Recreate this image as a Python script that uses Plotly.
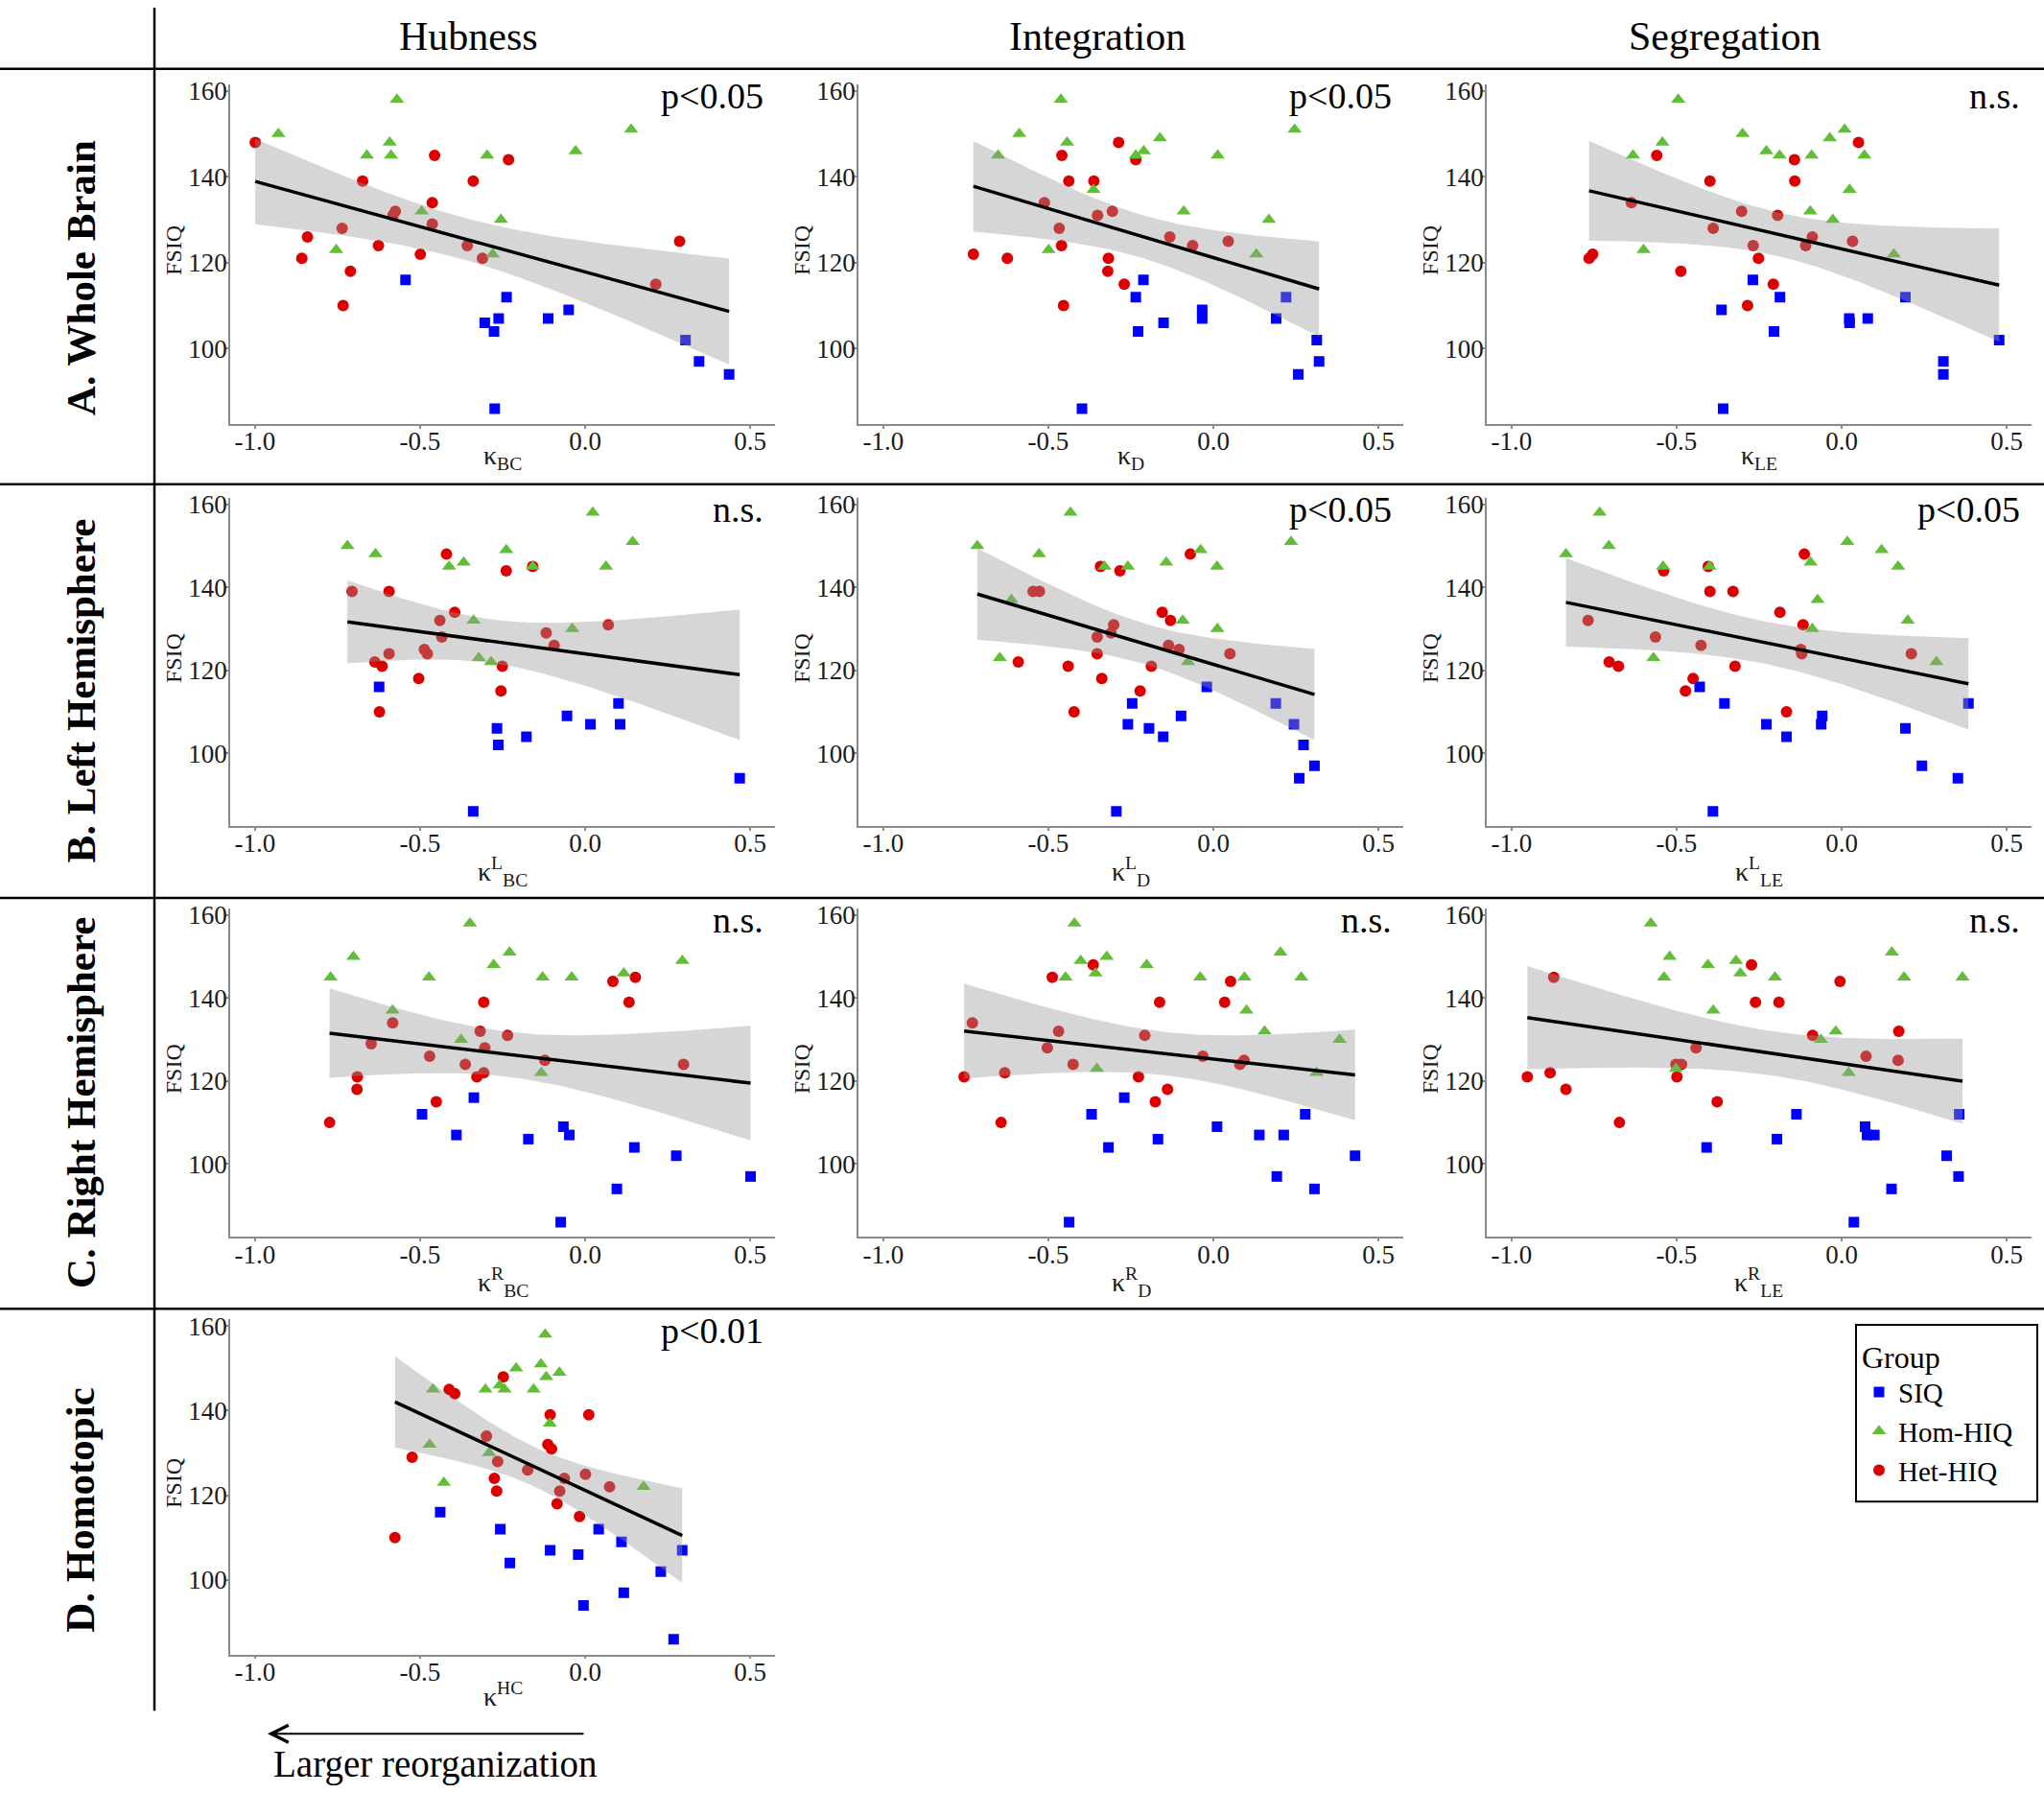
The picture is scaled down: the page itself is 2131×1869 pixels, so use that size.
import numpy as np
import plotly.graph_objects as go

# ---- axis ticks / labels ----
X_TICKS = [-1.0, -0.5, 0.0, 0.5]
X_TICKTEXT = ["-1.0", "-0.5", "0.0", "0.5"]
Y_TICKS = [100, 120, 140, 160]
GROUPS = ["SIQ", "Hom-HIQ", "Het-HIQ"]
COLUMN_TITLES = ["Hubness", "Integration", "Segregation"]
ROW_TITLES = ["A. Whole Brain", "B. Left Hemisphere", "C. Right Hemisphere", "D. Homotopic"]

# ---- A. whole brain ----
WB_HUB_SIQ_X = [-0.544, -0.238, -0.304, -0.262, -0.276, -0.112, -0.050, 0.304, 0.345, 0.436, -0.274]
WB_HUB_SIQ_IQ = [116, 112, 106, 107, 104, 107, 109, 102, 97, 94, 86]
WB_HUB_HOM_X = [-0.570, -0.929, -0.592, -0.661, -0.588, -0.297, -0.029, 0.139, -0.495, -0.255, -0.754, -0.280]
WB_HUB_HOM_IQ = [158, 150, 148, 145, 145, 145, 146, 151, 132, 130, 123, 122]
WB_HUB_HET_X = [-0.999, -0.456, -0.232, -0.674, -0.339, -0.463, -0.575, -0.582, -0.463, -0.736,
                -0.841, -0.626, -0.357, -0.858, -0.499, -0.311, -0.711, 0.286, 0.214, -0.733]
WB_HUB_HET_IQ = [148, 145, 144, 139, 139, 134, 132, 131, 129, 128, 126, 124, 124, 121, 122, 121, 118, 125, 115, 110]

WB_INT_SIQ_X = [-0.212, -0.235, -0.034, -0.034, -0.151, -0.228, 0.190, 0.220, 0.313, 0.320, 0.257, -0.398]
WB_INT_SIQ_IQ = [116, 112, 109, 107, 106, 104, 107, 112, 102, 97, 94, 86]
WB_INT_HOM_X = [-0.462, -0.588, -0.443, -0.652, -0.235, -0.211, -0.162, 0.013, 0.246, -0.363, -0.090, 0.168, -0.499, 0.130]
WB_INT_HOM_IQ = [158, 150, 148, 145, 145, 146, 149, 145, 151, 137, 132, 130, 123, 122]
WB_INT_HET_X = [-0.287, -0.459, -0.235, -0.438, -0.362, -0.512, -0.306, -0.351, -0.467, -0.132,
                -0.460, -0.063, 0.045, -0.727, -0.624, -0.318, -0.320, -0.270, -0.454]
WB_INT_HET_IQ = [148, 145, 144, 139, 139, 134, 132, 131, 128, 126, 124, 124, 125, 122, 121, 121, 118, 115, 110]

WB_SEG_SIQ_X = [-0.269, -0.187, -0.364, 0.023, 0.024, 0.079, -0.205, 0.193, 0.477, 0.308, 0.308, -0.359]
WB_SEG_SIQ_IQ = [116, 112, 109, 107, 106, 107, 104, 112, 102, 97, 94, 86]
WB_SEG_HOM_X = [-0.495, -0.300, -0.543, -0.632, -0.228, -0.188, -0.091, -0.036, 0.009, 0.069, 0.024, -0.095, -0.027, -0.600, 0.158]
WB_SEG_HOM_IQ = [158, 150, 148, 145, 146, 145, 145, 149, 151, 145, 137, 132, 130, 123, 122]
WB_SEG_HET_X = [0.051, -0.560, -0.143, -0.399, -0.142, -0.637, -0.303, -0.194, -0.389, -0.089,
                0.033, -0.268, -0.109, -0.754, -0.765, -0.252, -0.487, -0.207, -0.285]
WB_SEG_HET_IQ = [148, 145, 144, 139, 139, 134, 132, 131, 128, 126, 125, 124, 124, 122, 121, 121, 118, 115, 110]

# ---- B. left hemisphere ----
LH_HUB_SIQ_X = [-0.624, 0.101, -0.055, -0.267, 0.016, 0.106, -0.178, -0.263, 0.468, -0.339]
LH_HUB_SIQ_IQ = [116, 112, 109, 106, 107, 107, 104, 102, 94, 86]
LH_HUB_HOM_X = [0.023, -0.720, -0.635, -0.239, 0.144, -0.412, -0.368, -0.159, 0.063, -0.338, -0.039, -0.322, -0.285]
LH_HUB_HOM_IQ = [158, 150, 148, 149, 151, 145, 146, 145, 145, 132, 130, 123, 122]
LH_HUB_HET_X = [-0.420, -0.239, -0.159, -0.706, -0.594, -0.395, -0.440, 0.070, -0.118, -0.434,
                -0.094, -0.487, -0.478, -0.594, -0.637, -0.615, -0.251, -0.504, -0.255, -0.623]
LH_HUB_HET_IQ = [148, 144, 145, 139, 139, 134, 132, 131, 129, 128, 126, 125, 124, 124, 122, 121, 121, 118, 115, 110]

LH_INT_SIQ_X = [-0.020, -0.246, 0.189, -0.098, -0.259, 0.244, -0.195, -0.152, 0.273, 0.306, 0.260, -0.294]
LH_INT_SIQ_IQ = [116, 112, 112, 109, 107, 107, 106, 104, 102, 97, 94, 86]
LH_INT_HOM_X = [-0.433, -0.715, -0.528, -0.039, 0.235, -0.143, -0.330, -0.259, 0.011, -0.612, -0.093, 0.012, -0.647, -0.077]
LH_INT_HOM_IQ = [158, 150, 148, 149, 151, 146, 145, 145, 145, 137, 132, 130, 123, 122]
LH_INT_HET_X = [-0.070, -0.342, -0.283, -0.546, -0.527, -0.155, -0.130, -0.302, -0.310, -0.352,
                -0.136, -0.104, 0.050, -0.352, -0.591, -0.440, -0.188, -0.338, -0.222, -0.422]
LH_INT_HET_IQ = [148, 145, 144, 139, 139, 134, 132, 131, 129, 128, 126, 125, 124, 124, 122, 121, 121, 118, 115, 110]

LH_SEG_SIQ_X = [-0.430, -0.355, 0.384, -0.059, -0.228, -0.062, 0.193, -0.167, 0.243, 0.352, -0.390]
LH_SEG_SIQ_IQ = [116, 112, 112, 109, 107, 107, 106, 104, 97, 94, 86]
LH_SEG_HOM_X = [-0.733, -0.835, -0.705, 0.017, 0.121, -0.094, 0.171, -0.541, -0.400, -0.073, 0.200, -0.089, -0.570, 0.287]
LH_SEG_HOM_IQ = [158, 148, 150, 151, 149, 146, 145, 145, 145, 137, 132, 130, 123, 122]
LH_SEG_HET_X = [-0.113, -0.404, -0.539, -0.399, -0.329, -0.187, -0.117, -0.768, -0.564, -0.426,
                -0.124, -0.121, 0.211, -0.704, -0.676, -0.323, -0.450, -0.473, -0.167]
LH_SEG_HET_IQ = [148, 145, 144, 139, 139, 134, 131, 132, 128, 126, 125, 124, 124, 122, 121, 121, 118, 115, 110]

# ---- C. right hemisphere ----
RH_HUB_SIQ_X = [-0.337, -0.494, -0.066, -0.390, -0.048, -0.172, 0.149, 0.276, 0.501, 0.096, -0.074]
RH_HUB_SIQ_IQ = [116, 112, 109, 107, 107, 106, 104, 102, 97, 94, 86]
RH_HUB_HOM_X = [-0.349, -0.702, -0.229, -0.277, 0.294, -0.771, -0.473, -0.129, -0.041, 0.117, -0.583, -0.376, -0.133]
RH_HUB_HOM_IQ = [158, 150, 151, 148, 149, 145, 145, 145, 145, 146, 137, 130, 122]
RH_HUB_HET_X = [0.152, 0.084, -0.307, 0.133, -0.583, -0.318, -0.235, -0.648, -0.304, -0.471,
                -0.122, -0.363, 0.298, -0.307, -0.690, -0.328, -0.691, -0.451, -0.774]
RH_HUB_HET_IQ = [145, 144, 139, 139, 134, 132, 131, 129, 128, 126, 125, 124, 124, 122, 121, 121, 118, 115, 110]

RH_INT_SIQ_X = [-0.270, -0.369, 0.278, 0.011, 0.139, 0.213, -0.168, -0.318, 0.429, 0.192, 0.306, -0.437]
RH_INT_SIQ_IQ = [116, 112, 112, 109, 107, 107, 106, 104, 102, 97, 94, 86]
RH_INT_HOM_X = [-0.421, -0.323, -0.402, -0.202, 0.203, -0.448, -0.357, -0.040, 0.094, 0.266, 0.100, 0.155, 0.382, -0.353, 0.312]
RH_INT_HOM_IQ = [158, 150, 149, 148, 151, 145, 146, 145, 145, 145, 137, 132, 130, 123, 122]
RH_INT_HET_X = [-0.364, -0.488, 0.052, -0.163, 0.034, -0.730, -0.469, -0.208, -0.503, -0.032,
                0.093, -0.425, 0.080, -0.632, -0.755, -0.227, -0.139, -0.176, -0.643]
RH_INT_HET_IQ = [148, 145, 144, 139, 139, 134, 132, 131, 128, 126, 125, 124, 124, 122, 121, 121, 118, 115, 110]

RH_SEG_SIQ_X = [-0.137, 0.356, 0.071, 0.077, 0.099, -0.196, -0.409, 0.318, 0.354, 0.151, 0.037]
RH_SEG_SIQ_IQ = [112, 112, 109, 107, 107, 106, 104, 102, 97, 94, 86]
RH_SEG_HOM_X = [-0.578, -0.521, -0.320, -0.405, 0.152, -0.538, -0.307, -0.202, 0.189, 0.366, -0.389, -0.018, -0.063, -0.502, 0.021]
RH_SEG_HOM_IQ = [158, 150, 149, 148, 151, 145, 146, 145, 145, 145, 137, 132, 130, 123, 122]
RH_SEG_HET_X = [-0.273, -0.872, -0.005, -0.261, -0.190, 0.173, -0.088, -0.441, 0.074, 0.171,
                -0.502, -0.485, -0.883, -0.952, -0.499, -0.835, -0.377, -0.673]
RH_SEG_HET_IQ = [148, 145, 144, 139, 139, 132, 131, 128, 126, 125, 124, 124, 122, 121, 121, 118, 115, 110]

# ---- D. homotopic ----
HOM_SIQ_X = [-0.439, -0.257, 0.041, 0.110, -0.106, 0.294, -0.021, -0.228, 0.229, 0.117, -0.005, 0.268]
HOM_SIQ_IQ = [116, 112, 112, 109, 107, 107, 106, 104, 102, 97, 94, 86]
HOM_HOM_X = [-0.121, -0.134, -0.209, -0.078, -0.118, -0.259, -0.461, -0.302, -0.244, -0.156, -0.107, -0.471, -0.291, -0.428, 0.177]
HOM_HOM_IQ = [158, 151, 150, 149, 148, 146, 145, 145, 145, 145, 137, 132, 130, 123, 122]
HOM_HET_X = [-0.248, -0.412, -0.395, -0.106, 0.011, -0.299, -0.113, -0.102, -0.524, -0.265,
             -0.174, 0.001, -0.275, -0.063, 0.074, -0.268, -0.077, -0.085, -0.017, -0.576]
HOM_HET_IQ = [148, 145, 144, 139, 139, 134, 132, 131, 129, 128, 126, 125, 124, 124, 122, 121, 121, 118, 115, 110]

# row, col, x title, p label, (siq, hom, het)
panels = [
    (0, 0, "κ<sub>BC</sub>", "p&lt;0.05", (WB_HUB_SIQ_X, WB_HUB_SIQ_IQ), (WB_HUB_HOM_X, WB_HUB_HOM_IQ), (WB_HUB_HET_X, WB_HUB_HET_IQ)),
    (0, 1, "κ<sub>D</sub>", "p&lt;0.05", (WB_INT_SIQ_X, WB_INT_SIQ_IQ), (WB_INT_HOM_X, WB_INT_HOM_IQ), (WB_INT_HET_X, WB_INT_HET_IQ)),
    (0, 2, "κ<sub>LE</sub>", "n.s.", (WB_SEG_SIQ_X, WB_SEG_SIQ_IQ), (WB_SEG_HOM_X, WB_SEG_HOM_IQ), (WB_SEG_HET_X, WB_SEG_HET_IQ)),
    (1, 0, "κ<sup>L</sup><sub>BC</sub>", "n.s.", (LH_HUB_SIQ_X, LH_HUB_SIQ_IQ), (LH_HUB_HOM_X, LH_HUB_HOM_IQ), (LH_HUB_HET_X, LH_HUB_HET_IQ)),
    (1, 1, "κ<sup>L</sup><sub>D</sub>", "p&lt;0.05", (LH_INT_SIQ_X, LH_INT_SIQ_IQ), (LH_INT_HOM_X, LH_INT_HOM_IQ), (LH_INT_HET_X, LH_INT_HET_IQ)),
    (1, 2, "κ<sup>L</sup><sub>LE</sub>", "p&lt;0.05", (LH_SEG_SIQ_X, LH_SEG_SIQ_IQ), (LH_SEG_HOM_X, LH_SEG_HOM_IQ), (LH_SEG_HET_X, LH_SEG_HET_IQ)),
    (2, 0, "κ<sup>R</sup><sub>BC</sub>", "n.s.", (RH_HUB_SIQ_X, RH_HUB_SIQ_IQ), (RH_HUB_HOM_X, RH_HUB_HOM_IQ), (RH_HUB_HET_X, RH_HUB_HET_IQ)),
    (2, 1, "κ<sup>R</sup><sub>D</sub>", "n.s.", (RH_INT_SIQ_X, RH_INT_SIQ_IQ), (RH_INT_HOM_X, RH_INT_HOM_IQ), (RH_INT_HET_X, RH_INT_HET_IQ)),
    (2, 2, "κ<sup>R</sup><sub>LE</sub>", "n.s.", (RH_SEG_SIQ_X, RH_SEG_SIQ_IQ), (RH_SEG_HOM_X, RH_SEG_HOM_IQ), (RH_SEG_HET_X, RH_SEG_HET_IQ)),
    (3, 0, "κ<sup>HC</sup>", "p&lt;0.01", (HOM_SIQ_X, HOM_SIQ_IQ), (HOM_HOM_X, HOM_HOM_IQ), (HOM_HET_X, HOM_HET_IQ)),
]

W, H = 2131, 1869
Y_SHIFT = -4
FONT = "Liberation Serif, Times New Roman, serif"
COL_LEFT = [240, 895, 1550]
PANEL_W = 568
ROW_TOP = [84, 517, 947, 1377]
ROW_BOTTOM = [440, 861, 1291, 1728]
X_TITLE_GAP = [15, 26, 26, 22]
X_RANGE = [-1.075, 0.575]
Y_RANGE = [82.4, 161.6]
T_CRIT = 2.02  # ~t(0.975, n-2) for n around 45

COLORS = {"SIQ": "#0000FF", "Hom-HIQ": "#62BE37", "Het-HIQ": "#DD0000"}
SYMBOLS = {"SIQ": "square", "Hom-HIQ": "triangle-up", "Het-HIQ": "circle"}
SIZES = {"SIQ": 11, "Hom-HIQ": 13, "Het-HIQ": 12}
RANKS = {"SIQ": 1, "Hom-HIQ": 2, "Het-HIQ": 3}


def fx(px):
    return px / W


def fy(py):
    return 1 - (py + Y_SHIFT) / H


def lm_band(x, y):
    # ordinary least squares + 95% confidence band, like geom_smooth(method="lm")
    x = np.asarray(x, float)
    y = np.asarray(y, float)
    n = len(x)
    xm, ym = x.mean(), y.mean()
    sxx = ((x - xm) ** 2).sum()
    b = ((x - xm) * (y - ym)).sum() / sxx
    a = ym - b * xm
    s = np.sqrt(((y - (a + b * x)) ** 2).sum() / (n - 2))
    grid = np.linspace(x.min(), x.max(), 80)
    fit = a + b * grid
    se = s * np.sqrt(1 / n + (grid - xm) ** 2 / sxx)
    return grid, fit, fit - T_CRIT * se, fit + T_CRIT * se


fig = go.Figure()
annotations = []

for i, (row, col, xtitle, plabel, siq, hom, het) in enumerate(panels, start=1):
    xa = "x" if i == 1 else "x%d" % i
    ya = "y" if i == 1 else "y%d" % i
    sets = {"SIQ": siq, "Hom-HIQ": hom, "Het-HIQ": het}

    # points: red first, green last (green ends up on top like the original)
    for g in ["Het-HIQ", "SIQ", "Hom-HIQ"]:
        gx, gy = sets[g]
        fig.add_trace(go.Scatter(
            x=gx, y=gy, mode="markers", name=g, xaxis=xa, yaxis=ya,
            marker=dict(color=COLORS[g], symbol=SYMBOLS[g], size=SIZES[g], line=dict(width=0)),
            legendgroup=g, showlegend=(i == 1), legendrank=RANKS[g],
        ))

    all_x = list(siq[0]) + list(hom[0]) + list(het[0])
    all_y = list(siq[1]) + list(hom[1]) + list(het[1])
    grid, fit, lo, hi = lm_band(all_x, all_y)
    fig.add_trace(go.Scatter(
        x=np.concatenate([grid, grid[::-1]]), y=np.concatenate([hi, lo[::-1]]),
        fill="toself", fillcolor="rgba(153,153,153,0.4)", line=dict(width=0),
        mode="lines", xaxis=xa, yaxis=ya, showlegend=False, hoverinfo="skip",
    ))
    fig.add_trace(go.Scatter(
        x=grid, y=fit, mode="lines", line=dict(color="black", width=3.5),
        xaxis=xa, yaxis=ya, showlegend=False,
    ))

    x0 = COL_LEFT[col]
    x1 = x0 + PANEL_W
    y0, y1 = ROW_TOP[row], ROW_BOTTOM[row]
    axis_common = dict(
        showline=True, linecolor="#8a8a8a", linewidth=1.5, showgrid=False, zeroline=False,
        ticks="outside", ticklen=3, tickcolor="#8a8a8a", tickwidth=1.5,
        tickfont=dict(family=FONT, size=27, color="#1a1a1a"),
    )
    fig.update_layout(**{
        ("xaxis" if i == 1 else "xaxis%d" % i): dict(
            axis_common, domain=[fx(x0), fx(x1)], anchor=ya, range=X_RANGE,
            tickvals=X_TICKS, ticktext=X_TICKTEXT, ticklabelstandoff=-10,
        ),
        ("yaxis" if i == 1 else "yaxis%d" % i): dict(
            axis_common, domain=[fy(y1), fy(y0)], anchor=xa, range=Y_RANGE,
            tickvals=Y_TICKS, ticklabelstandoff=-7,
        ),
    })

    # x title under the tick labels
    annotations.append(dict(
        text=xtitle, xref="paper", yref="paper", x=fx((x0 + x1) / 2), y=fy(y1 + X_TITLE_GAP[row]),
        xanchor="center", yanchor="top", showarrow=False,
        font=dict(family=FONT, size=28, color="#1a1a1a"),
    ))
    # y title
    annotations.append(dict(
        text="FSIQ", xref="paper", yref="paper", x=fx(x0 - 59), y=fy((y0 + y1) / 2 - 4),
        xanchor="center", yanchor="middle", textangle=-90, showarrow=False,
        font=dict(family=FONT, size=24, color="#1a1a1a"),
    ))
    annotations.append(dict(
        text=plabel, xref="paper", yref="paper", x=fx(x1 - 10), y=fy(y0 - 11),
        xanchor="right", yanchor="top", showarrow=False,
        font=dict(family=FONT, size=38, color="black"),
    ))

# column headers
for col, t in enumerate(COLUMN_TITLES):
    cx = (161 + 655 * col + 161 + 655 * (col + 1)) / 2
    annotations.append(dict(
        text=t, xref="paper", yref="paper", x=fx(cx), y=fy(34),
        xanchor="center", yanchor="middle", showarrow=False,
        font=dict(family=FONT, size=42, color="black"),
    ))

# row labels
row_edges = [68, 503, 936, 1366, 1787]
for r, t in enumerate(ROW_TITLES):
    annotations.append(dict(
        text="<b>%s</b>" % t, xref="paper", yref="paper", x=fx(84),
        y=fy((max(row_edges[r], 72) + row_edges[r + 1]) / 2), textangle=-90,
        xanchor="center", yanchor="middle", showarrow=False,
        font=dict(family=FONT, size=43, color="black"),
    ))

# arrow + caption at the bottom
annotations.append(dict(
    text="", xref="paper", yref="paper", x=fx(279), y=fy(1811),
    ax=331, ay=0, showarrow=True, arrowhead=5, arrowsize=1.6, arrowwidth=2.2, arrowcolor="black",
))
annotations.append(dict(
    text="Larger reorganization", xref="paper", yref="paper", x=fx(453), y=fy(1843),
    xanchor="center", yanchor="middle", showarrow=False,
    font=dict(family=FONT, size=39, color="black"),
))

shapes = []
for yy in row_edges[:4]:
    shapes.append(dict(type="line", xref="paper", yref="paper", x0=0, x1=1, y0=fy(yy), y1=fy(yy),
                       line=dict(color="black", width=2.5)))
shapes.append(dict(type="line", xref="paper", yref="paper", x0=fx(161), x1=fx(161), y0=1, y1=fy(1787),
                   line=dict(color="black", width=2.5)))
# legend frame (drawn as a shape so its size matches the original box)
shapes.append(dict(type="rect", xref="paper", yref="paper", x0=fx(1935), x1=fx(2124),
                   y0=fy(1568), y1=fy(1383), line=dict(color="black", width=2),
                   fillcolor="rgba(0,0,0,0)"))

fig.update_layout(
    width=W, height=H,
    margin=dict(l=0, r=0, t=0, b=0),
    paper_bgcolor="white", plot_bgcolor="white",
    font=dict(family=FONT, color="black"),
    annotations=annotations, shapes=shapes,
    legend=dict(
        x=fx(1939), y=fy(1386), xanchor="left", yanchor="top",
        borderwidth=0, bgcolor="rgba(0,0,0,0)",
        title=dict(text="Group", font=dict(family=FONT, size=32, color="black")),
        font=dict(family=FONT, size=29, color="black"),
        tracegroupgap=0,
    ),
)

fig.write_html("out.html", config={"displayModeBar": False},
               post_script="document.body.style.margin='0px';")
